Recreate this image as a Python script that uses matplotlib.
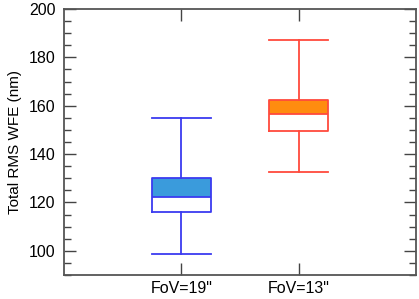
import numpy as np
import matplotlib
matplotlib.use('Agg')
import matplotlib.pyplot as plt
from matplotlib.ticker import MultipleLocator

plt.rcParams['font.family'] = ['Liberation Sans', 'DejaVu Sans']

# box statistics
labels = ['FoV=19"', 'FoV=13"']
whislo = [98.6, 132.5]
q1 = [116.0, 149.6]
med = [122.2, 156.5]
q3 = [130.3, 162.4]
whishi = [155.0, 187.2]

edge_colors = ['#3b3bf0', '#ff4a3d']
fill_colors = ['#3a9bdc', '#ff8c0f']
positions = [1, 2]

fig = plt.figure(figsize=(4.19, 2.99), dpi=100)
ax = fig.add_axes([64/419, 24/299, 352/419, 266/299])

for i in range(len(labels)):
    st = [dict(whislo=whislo[i], q1=q1[i], med=med[i], q3=q3[i], whishi=whishi[i], fliers=[])]
    c = edge_colors[i]
    # upper half of box filled
    ax.bar(positions[i], q3[i] - med[i], bottom=med[i], width=0.5,
           color=fill_colors[i], edgecolor='none', zorder=1)
    ax.bxp(st, positions=[positions[i]], widths=0.5, showfliers=False,
           boxprops=dict(color=c, linewidth=1.3),
           medianprops=dict(color=c, linewidth=1.3),
           whiskerprops=dict(color=c, linewidth=1.3),
           capprops=dict(color=c, linewidth=1.3),
           capwidths=0.5, manage_ticks=False, zorder=2)

ax.set_xlim(0, 3)
ax.set_ylim(90, 200)
ax.set_xticks(positions)
ax.set_xticklabels(labels, fontsize=11.5)
ax.yaxis.set_major_locator(MultipleLocator(20))
ax.yaxis.set_minor_locator(MultipleLocator(5))
ax.tick_params(axis='y', which='major', direction='in', length=8.5, width=1,
               color='#444444', left=True, right=True, labelsize=11.5, pad=6)
ax.tick_params(axis='y', which='minor', direction='in', length=5, width=1,
               color='#444444', left=True, right=True)
ax.tick_params(axis='x', which='major', direction='in', length=8.5, width=1,
               color='#444444', top=True, bottom=True, pad=4)
for s in ax.spines.values():
    s.set_color('#555555')
    s.set_linewidth(1.3)
ax.set_ylabel('Total RMS WFE (nm)', fontsize=11, labelpad=5)

fig.savefig('out.png', dpi=100)
